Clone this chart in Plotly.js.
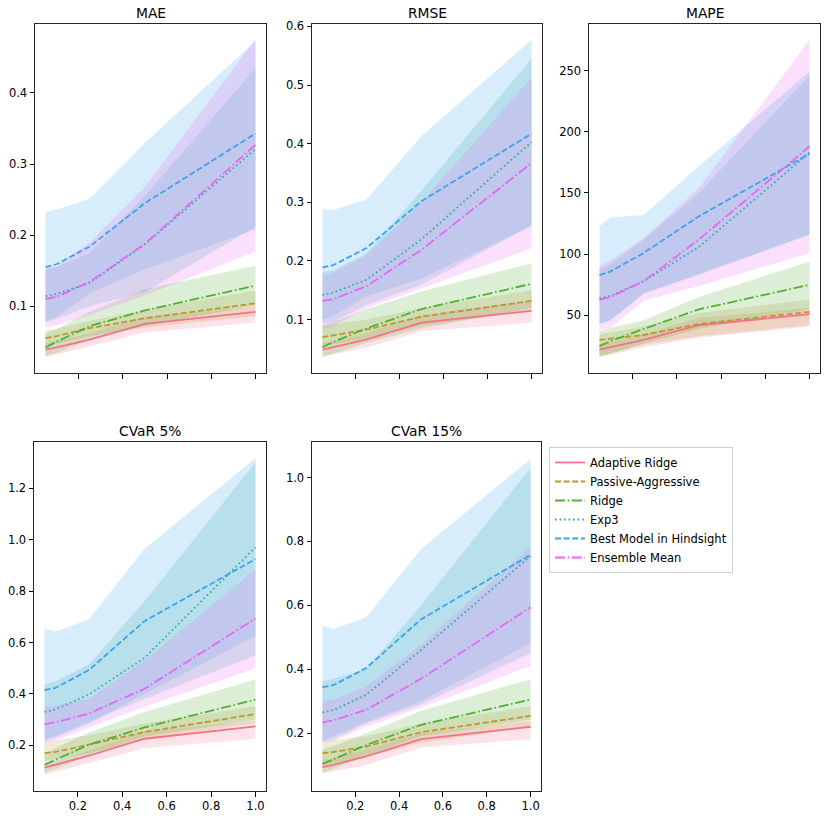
<!DOCTYPE html>
<html>
<head>
<meta charset="utf-8">
<script src="https://cdn.plot.ly/plotly-3.0.1.min.js"></script>
<style>
  html, body { margin: 0; padding: 0; background: #fff; }
  #chart { width: 830px; height: 820px; }
</style>
</head>
<body>
<div id="chart"></div>
<script>
// fraction of training data on the x axis
let xs = [0.05, 0.1, 0.25, 0.5, 1.0];

let models = ['Adaptive Ridge', 'Passive-Aggressive', 'Ridge', 'Exp3', 'Best Model in Hindsight', 'Ensemble Mean'];
let panels = ['MAE', 'RMSE', 'MAPE', 'CVaR 5%', 'CVaR 15%'];

// MAE
let mae_mean = [
    [0.039, 0.042, 0.053, 0.075, 0.092],
    [0.055, 0.058, 0.069, 0.083, 0.104],
    [0.042, 0.050, 0.072, 0.094, 0.129],
    [0.114, 0.117, 0.133, 0.187, 0.321],
    [0.155, 0.159, 0.184, 0.245, 0.343],
    [0.110, 0.113, 0.134, 0.188, 0.327]
];
let mae_hi = [
    [0.049, 0.051, 0.062, 0.085, 0.100],
    [0.066, 0.068, 0.079, 0.095, 0.122],
    [0.062, 0.068, 0.092, 0.124, 0.157],
    [0.151, 0.155, 0.175, 0.255, 0.435],
    [0.233, 0.236, 0.251, 0.330, 0.473],
    [0.153, 0.156, 0.190, 0.268, 0.476]
];
let mae_lo = [
    [0.028, 0.031, 0.043, 0.063, 0.077],
    [0.045, 0.047, 0.058, 0.070, 0.086],
    [0.030, 0.034, 0.053, 0.072, 0.101],
    [0.078, 0.082, 0.100, 0.120, 0.212],
    [0.078, 0.085, 0.118, 0.152, 0.208],
    [0.070, 0.073, 0.088, 0.115, 0.177]
];

// RMSE
let rmse_mean = [
    [0.049, 0.053, 0.066, 0.095, 0.115],
    [0.070, 0.073, 0.083, 0.105, 0.132],
    [0.053, 0.062, 0.085, 0.118, 0.161],
    [0.142, 0.146, 0.168, 0.237, 0.403],
    [0.189, 0.193, 0.222, 0.302, 0.417],
    [0.132, 0.135, 0.157, 0.219, 0.367]
];
let rmse_hi = [
    [0.060, 0.063, 0.077, 0.108, 0.133],
    [0.090, 0.092, 0.100, 0.120, 0.150],
    [0.090, 0.096, 0.118, 0.148, 0.196],
    [0.181, 0.184, 0.213, 0.320, 0.545],
    [0.288, 0.287, 0.305, 0.413, 0.577],
    [0.176, 0.180, 0.210, 0.300, 0.513]
];
let rmse_lo = [
    [0.038, 0.041, 0.052, 0.080, 0.095],
    [0.055, 0.058, 0.067, 0.090, 0.115],
    [0.036, 0.042, 0.060, 0.085, 0.120],
    [0.092, 0.096, 0.125, 0.160, 0.260],
    [0.100, 0.106, 0.140, 0.170, 0.260],
    [0.085, 0.089, 0.120, 0.153, 0.222]
];

// MAPE
let mape_mean = [
    [22, 24, 30, 42, 51],
    [30, 31, 34, 43, 53],
    [25, 29, 39, 55, 75],
    [64, 66, 78, 106, 183],
    [83, 86, 101, 131, 182],
    [63, 65, 78, 112, 188]
];
let mape_hi = [
    [27, 28, 35, 48, 56],
    [35, 36, 41, 52, 63],
    [37, 40, 46, 65, 94],
    [88, 92, 112, 150, 246],
    [123, 130, 132, 172, 249],
    [90, 95, 113, 154, 275]
];
let mape_lo = [
    [16, 18, 24, 32, 41],
    [17, 19, 26, 33, 42],
    [16, 19, 27, 39, 55],
    [43, 46, 68, 83, 116],
    [43, 46, 68, 84, 116],
    [38, 40, 62, 74, 101]
];

// CVaR 5%
let cvar5_mean = [
    [0.114, 0.125, 0.160, 0.226, 0.274],
    [0.170, 0.175, 0.203, 0.252, 0.322],
    [0.125, 0.145, 0.203, 0.270, 0.378],
    [0.330, 0.340, 0.398, 0.540, 0.970],
    [0.415, 0.424, 0.493, 0.683, 0.924],
    [0.283, 0.290, 0.324, 0.420, 0.693]
];
let cvar5_hi = [
    [0.130, 0.140, 0.180, 0.255, 0.295],
    [0.215, 0.220, 0.240, 0.285, 0.352],
    [0.170, 0.190, 0.250, 0.330, 0.456],
    [0.437, 0.450, 0.515, 0.760, 1.300],
    [0.656, 0.642, 0.690, 0.963, 1.317],
    [0.350, 0.355, 0.380, 0.530, 0.885]
];
let cvar5_lo = [
    [0.085, 0.095, 0.130, 0.190, 0.226],
    [0.140, 0.145, 0.170, 0.222, 0.287],
    [0.092, 0.110, 0.160, 0.235, 0.300],
    [0.220, 0.235, 0.290, 0.380, 0.550],
    [0.215, 0.230, 0.285, 0.400, 0.625],
    [0.210, 0.220, 0.270, 0.350, 0.500]
];

// CVaR 15%
let cvar15_mean = [
    [0.094, 0.101, 0.127, 0.181, 0.220],
    [0.137, 0.141, 0.158, 0.203, 0.254],
    [0.103, 0.118, 0.163, 0.226, 0.305],
    [0.265, 0.272, 0.320, 0.460, 0.754],
    [0.344, 0.350, 0.404, 0.556, 0.758],
    [0.234, 0.240, 0.273, 0.370, 0.594]
];
let cvar15_hi = [
    [0.116, 0.122, 0.150, 0.200, 0.237],
    [0.174, 0.178, 0.190, 0.230, 0.284],
    [0.148, 0.160, 0.200, 0.270, 0.369],
    [0.362, 0.370, 0.400, 0.600, 1.030],
    [0.536, 0.526, 0.563, 0.776, 1.058],
    [0.300, 0.305, 0.346, 0.477, 0.783]
];
let cvar15_lo = [
    [0.075, 0.080, 0.100, 0.155, 0.181],
    [0.100, 0.105, 0.125, 0.170, 0.220],
    [0.075, 0.088, 0.130, 0.190, 0.242],
    [0.174, 0.180, 0.230, 0.290, 0.450],
    [0.174, 0.190, 0.235, 0.300, 0.482],
    [0.170, 0.175, 0.220, 0.280, 0.410]
];

let means = [mae_mean, rmse_mean, mape_mean, cvar5_mean, cvar15_mean];
let highs = [mae_hi, rmse_hi, mape_hi, cvar5_hi, cvar15_hi];
let lows = [mae_lo, rmse_lo, mape_lo, cvar5_lo, cvar15_lo];

// seaborn husl palette
let colors = ['#f77189', '#bb9832', '#50b131', '#36ada4', '#3ba3ec', '#e866f4'];
let bands = ['rgba(247,113,137,0.2)', 'rgba(187,152,50,0.2)', 'rgba(80,177,49,0.2)',
             'rgba(54,173,164,0.2)', 'rgba(59,163,236,0.2)', 'rgba(232,102,244,0.2)'];
let dashes = ['solid', '6px,2.6px', '10px,2.6px,1.7px,2.6px', '1.7px,2.8px', '6px,2.6px', '10px,2.6px,1.7px,2.6px'];

// pixel boxes of the five axes [left, right, top, bottom]
let W = 830, H = 820;
let boxes = [
    [35, 266, 24, 373],
    [312, 542, 24, 373],
    [589, 820, 24, 373],
    [34, 266, 442, 791],
    [312, 541, 442, 791]
];
let yranges = [[0.006, 0.497], [0.009, 0.604], [3, 288], [0.023, 1.379], [0.019, 1.111]];
let ydticks = [0.1, 0.1, 50, 0.2, 0.2];
let yformats = ['.1f', '.1f', 'd', '.1f', '.1f'];

let data = [];
let layout = {
    width: W,
    height: H,
    margin: { l: 0, r: 0, t: 0, b: 0 },
    paper_bgcolor: '#ffffff',
    plot_bgcolor: '#ffffff',
    font: { family: 'DejaVu Sans', size: 11.5, color: '#000' },
    showlegend: true,
    legend: {
        x: 549 / W, y: 1 - 447 / H, xanchor: 'left', yanchor: 'top',
        bgcolor: '#ffffff', bordercolor: '#d0d0d0', borderwidth: 1,
        font: { family: 'DejaVu Sans', size: 11.5, color: '#000' },
        itemwidth: 30, tracegroupgap: 0
    },
    annotations: []
};

for (let p = 0; p < panels.length; p++) {
    let n = p + 1;
    let xa = 'x' + (n === 1 ? '' : n);
    let ya = 'y' + (n === 1 ? '' : n);
    let b = boxes[p];

    // bands first so lines sit on top
    for (let m = 0; m < models.length; m++) {
        let bx = xs.concat(xs.slice().reverse());
        let by = highs[p][m].concat(lows[p][m].slice().reverse());
        data.push({
            type: 'scatter', mode: 'lines', x: bx, y: by,
            xaxis: xa, yaxis: ya, fill: 'toself', fillcolor: bands[m],
            line: { width: 0, color: bands[m] }, hoverinfo: 'skip', showlegend: false
        });
    }
    for (let m = 0; m < models.length; m++) {
        data.push({
            type: 'scatter', mode: 'lines', name: models[m], x: xs, y: means[p][m],
            xaxis: xa, yaxis: ya, legendgroup: models[m], showlegend: p === 0,
            line: { color: colors[m], width: 1.8, dash: dashes[m] }
        });
    }

    let bottomRow = p >= 3;
    layout['xaxis' + (n === 1 ? '' : n)] = {
        domain: [b[0] / W, b[1] / W],
        anchor: ya,
        range: [0.0025, 1.0475],
        tickvals: [0.2, 0.4, 0.6, 0.8, 1.0],
        tickformat: '.1f',
        showticklabels: bottomRow,
        ticks: 'outside', ticklen: 4.5, tickwidth: 1, tickcolor: '#000',
        showline: true, mirror: true, linecolor: '#262626', linewidth: 1,
        showgrid: false, zeroline: false,
        tickfont: { size: 11.5, color: '#000' }
    };
    layout['yaxis' + (n === 1 ? '' : n)] = {
        domain: [1 - b[3] / H, 1 - b[2] / H],
        anchor: xa,
        range: yranges[p],
        dtick: ydticks[p],
        tick0: 0,
        tickformat: yformats[p],
        ticks: 'outside', ticklen: 4.5, tickwidth: 1, tickcolor: '#000',
        showline: true, mirror: true, linecolor: '#262626', linewidth: 1,
        showgrid: false, zeroline: false,
        tickfont: { size: 11.5, color: '#000' }
    };

    layout.annotations.push({
        xref: 'paper', yref: 'paper',
        x: (b[0] + b[1]) / 2 / W, y: 1 - b[2] / H,
        xanchor: 'center', yanchor: 'bottom', yshift: 1,
        text: panels[p], showarrow: false,
        font: { family: 'DejaVu Sans', size: 13.8, color: '#000' }
    });
}

Plotly.newPlot(document.getElementById('chart'), data, layout, { displayModeBar: false, staticPlot: true });
</script>
</body>
</html>
